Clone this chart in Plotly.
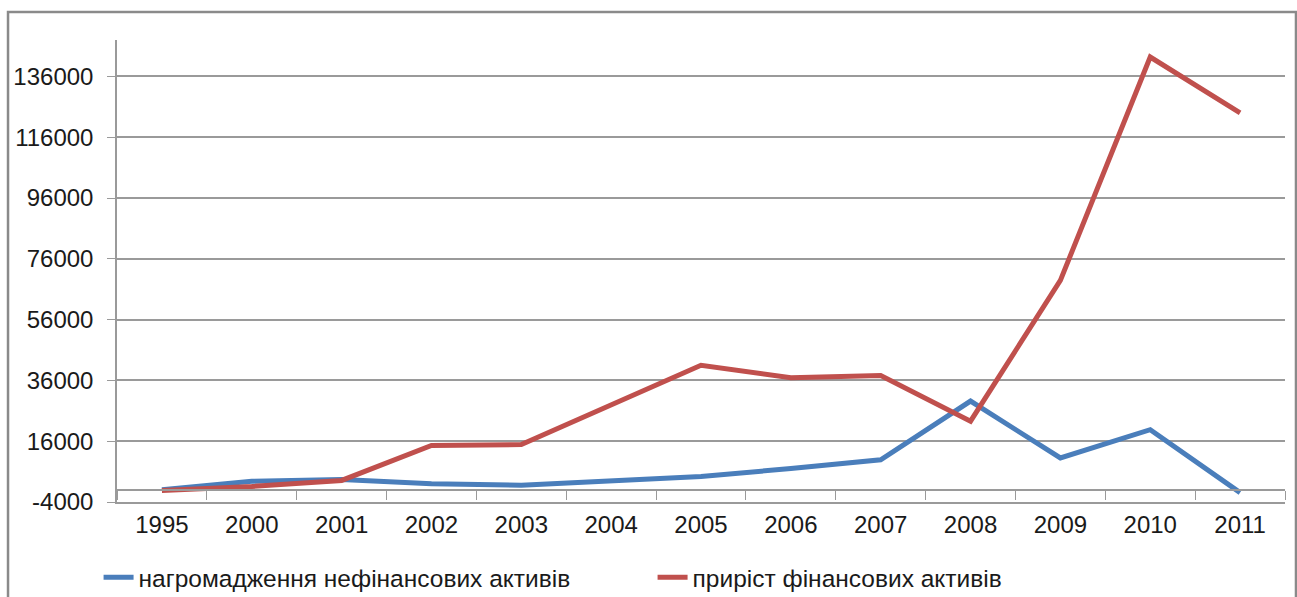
"""
Non-financial asset accumulation vs financial asset growth, 1995-2011.
"""

import plotly.graph_objects as go

years = ["1995", "2000", "2001", "2002", "2003", "2004", "2005",
         "2006", "2007", "2008", "2009", "2010", "2011"]
nonfin_assets = [0, 2800, 3400, 2000, 1500, 3100, 4400,
                 7000, 9900, 29200, 10500, 19800, -900]
fin_assets_growth = [-200, 1100, 3100, 14600, 14900, 27900, 41000,
                     36900, 37600, 22600, 68900, 142400, 124000]
series_names = ["нагромадження нефінансових активів",
                "приріст фінансових активів"]
y_ticks = [-4000, 16000, 36000, 56000, 76000, 96000, 116000, 136000]
y_tick_labels = ["-4000", "16000", "36000", "56000", "76000",
                 "96000", "116000", "136000"]

Y_MIN, Y_MAX = -4000, 148000
GRID = "#9a9a9a"
FONT = "Liberation Sans, Arial, sans-serif"

fig = go.Figure()
fig.add_trace(go.Scatter(x=years, y=nonfin_assets, mode="lines",
                         name=series_names[0],
                         line=dict(color="#4a7ebb", width=5)))
fig.add_trace(go.Scatter(x=years, y=fin_assets_growth, mode="lines",
                         name=series_names[1],
                         line=dict(color="#c0504d", width=5)))
# invisible helper trace so the zero-crossing category axis has categories
fig.add_trace(go.Scatter(x=years, y=[0] * len(years), xaxis="x2",
                         mode="lines", line=dict(width=0),
                         showlegend=False, hoverinfo="skip"))

zero_pos = (0 - Y_MIN) / (Y_MAX - Y_MIN)

fig.update_layout(
    width=1297,
    height=597,
    margin=dict(l=117, r=12, t=40, b=95, autoexpand=False),
    paper_bgcolor="white",
    plot_bgcolor="white",
    font=dict(family=FONT, size=24, color="#1a1a1a"),
    xaxis=dict(
        type="category",
        range=[-0.5, len(years) - 0.5],
        showgrid=False,
        ticks="",
        showline=True,
        linecolor=GRID,
        linewidth=1.5,
        ticklabelstandoff=0,
    ),
    xaxis2=dict(
        type="category",
        overlaying="x",
        anchor="free",
        position=zero_pos,
        range=[-0.5, len(years) - 0.5],
        showgrid=False,
        showline=True,
        linecolor=GRID,
        linewidth=1.5,
        ticks="outside",
        tickson="boundaries",
        ticklen=9,
        tickcolor=GRID,
        showticklabels=False,
    ),
    yaxis=dict(
        range=[Y_MIN, Y_MAX],
        tickmode="array",
        tickvals=y_ticks,
        ticktext=y_tick_labels,
        showgrid=True,
        gridcolor=GRID,
        gridwidth=1.5,
        zeroline=False,
        showline=True,
        linecolor=GRID,
        linewidth=1.5,
        ticks="outside",
        ticklen=8,
        tickcolor=GRID,
        ticklabelstandoff=9,
    ),
    legend=dict(
        orientation="h",
        xref="container",
        yref="container",
        x=0.076,
        xanchor="left",
        y=0.033,
        yanchor="middle",
        entrywidth=509,
        entrywidthmode="pixels",
        font=dict(size=24.5),
        bgcolor="rgba(0,0,0,0)",
    ),
    shapes=[dict(type="rect", xref="paper", yref="paper",
                 x0=-0.0933, x1=1.0094, y0=-0.25, y1=1.0606,
                 line=dict(color="#8a8a8a", width=2.5),
                 layer="below")],
)

# drop the browser's default body margin so the figure sits at the page origin
fig.write_html("out.html", config={"displayModeBar": False},
               post_script="document.body.style.margin = '0';")
